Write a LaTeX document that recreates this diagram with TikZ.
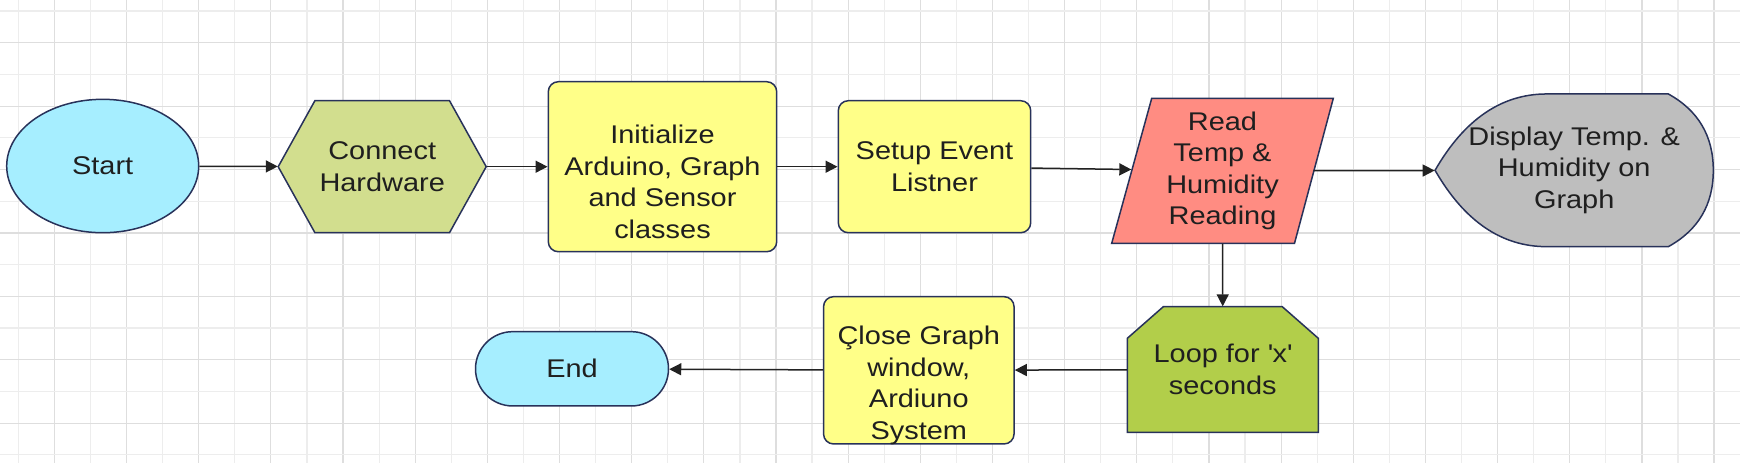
\documentclass[tikz,border=0pt]{standalone}
\usepackage{fontspec}
\setmainfont{Liberation Sans}[FakeStretch=1.13]
\usepackage{xcolor}
\definecolor{termblue}{RGB}{166,238,255}
\definecolor{hwgreen}{RGB}{210,222,142}
\definecolor{procyellow}{RGB}{255,255,136}
\definecolor{iosalmon}{RGB}{255,140,130}
\definecolor{dispgray}{RGB}{190,190,190}
\definecolor{loopgreen}{RGB}{178,206,74}
\definecolor{edgenavy}{RGB}{40,50,90}
\definecolor{linegray}{RGB}{34,34,34}
\definecolor{gridlight}{RGB}{237,237,237}
\definecolor{griddark}{RGB}{222,222,222}
\usetikzlibrary{shapes.geometric, shapes.misc, arrows.meta, backgrounds}
\newcommand{\flowfont}{\fontsize{12.8}{15.75}\selectfont}

\begin{document}
\begin{tikzpicture}[x=0.5pt, y=-0.5pt,
        base/.style={draw=edgenavy, line width=0.75pt, font=\flowfont, text=black!88, align=center, inner sep=0pt},
        term/.style={base, ellipse, fill=termblue},
        stadium/.style={base, rounded rectangle, fill=termblue},
        proc/.style={base, rectangle, rounded corners=5pt, fill=procyellow},
        shapebox/.style={rectangle, font=\flowfont, text=black!88, align=center, inner sep=0pt},
        shapeedge/.style={draw=edgenavy, line width=0.75pt},
        lbl/.style={font=\flowfont, text=black!88, align=center, inner sep=0pt},
        line/.style={draw=linegray, line width=0.75pt, -{Triangle[length=6pt, width=6pt]}}]

        \useasboundingbox (0,0) rectangle (1740,463);

        \node [term, minimum width=96pt, minimum height=66.7pt] (start) at (102.7,166) {Start};
        \node [shapebox, minimum width=104pt, minimum height=66pt] (hw) at (382.2,166.7) {Connect\\Hardware};
        \node [proc, minimum width=114.2pt, minimum height=85pt] (init) at (662.5,166.7) {};
        \node [lbl, yshift=-7.5pt] (initlbl) at (init) {Initialize\\Arduino, Graph\\and Sensor\\classes};
        \node [proc, minimum width=96.2pt, minimum height=66pt] (setup) at (934.5,166.7) {Setup Event\\Listner};
        \node [shapebox, minimum width=90.8pt, minimum height=72.5pt] (read) at (1222.5,170.8) {Read\\Temp \&\\Humidity\\Reading};
        \node [shapebox, minimum width=139.15pt, minimum height=76.35pt] (disp) at (1574.2,170.3) {Display Temp. \&\\Humidity on\\Graph};
        \node [shapebox, minimum width=95.5pt, minimum height=62.8pt] (loop) at (1222.8,369.5) {Loop for \textquotesingle x\textquotesingle\\seconds};
        \node [proc, minimum width=95.25pt, minimum height=73.65pt] (close) at (918.8,370.3) {};
        \node [lbl, yshift=-7.5pt] (closelbl) at (close) {Çlose Graph\\window,\\Ardiuno\\System};
        \node [stadium, minimum width=96.5pt, minimum height=37.15pt] (end) at (572,368.8) {End};

        \begin{scope}[on background layer]
            % paper and grid
            \fill [white] (0,0) rectangle (1740,463);
            \foreach \i in {0,2,...,46}
                \draw [gridlight, line width=0.6pt] ({18.3+36.08*\i},0) -- ({18.3+36.08*\i},463);
            \foreach \i in {1,3,...,47}
                \draw [griddark, line width=0.6pt] ({18.3+36.08*\i},0) -- ({18.3+36.08*\i},463);
            \foreach \j in {0,2,...,14}
                \draw [gridlight, line width=0.6pt] (0,{11+31.7*\j}) -- (1740,{11+31.7*\j});
            \foreach \j in {1,3,...,13}
                \draw [griddark, line width=0.6pt] (0,{11+31.7*\j}) -- (1740,{11+31.7*\j});

            % outlines of the custom shapes
            \begin{scope}[shift={(hw.center)}]
                \filldraw [shapeedge, fill=hwgreen] (-104,0) -- (-67.3,-66) -- (67.3,-66) -- (104,0) -- (67.3,66) -- (-67.3,66) -- cycle;
            \end{scope}
            \begin{scope}[shift={(read.center)}]
                \filldraw [shapeedge, fill=iosalmon] (-70.8,-72.5) -- (110.8,-72.5) -- (72,72.5) -- (-110.8,72.5) -- cycle;
            \end{scope}
            \begin{scope}[shift={(disp.center)}]
                \filldraw [shapeedge, fill=dispgray] (-139.15,0) .. controls (-109.9,-50.9) and (-72.6,-76.35) .. (-27.5,-76.35)
                    -- (94.1,-76.35) .. controls (124.1,-59.8) and (139.1,-34.3) .. (139.1,0)
                    .. controls (139.1,34.3) and (124.1,59.8) .. (94.1,76.35)
                    -- (-27.5,76.35) .. controls (-72.6,76.35) and (-109.9,50.9) .. (-139.15,0) -- cycle;
            \end{scope}
            \begin{scope}[shift={(loop.center)}]
                \filldraw [shapeedge, fill=loopgreen] (-95.5,62.8) -- (-95.5,-31.2) -- (-59.5,-62.8) -- (59.5,-62.8) -- (95.5,-31.2) -- (95.5,62.8) -- cycle;
            \end{scope}
        \end{scope}

        \path [line] (start) -- (hw);
        \path [line] (hw) -- (init);
        \path [line] (init) -- (setup);
        \path [line] (setup) -- (read);
        \path [line] (read) -- (disp);
        \path [line] (read) -- (loop);
        \path [line] (loop) -- (close);
        \path [line] (close) -- (end);
    \end{tikzpicture}
\end{document}
